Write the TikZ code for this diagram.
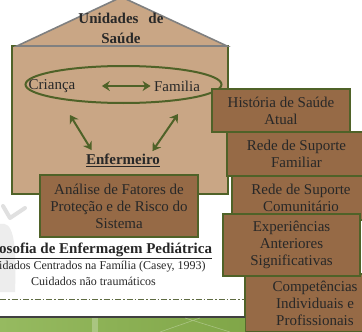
\documentclass[tikz,border=0pt]{standalone}
\usepackage{fontspec}
\setmainfont{Liberation Serif}
\usetikzlibrary{calc,shapes.geometric,arrows.meta}
\definecolor{casa}{RGB}{201,166,133}
\definecolor{caixa}{RGB}{150,106,70}
\definecolor{verde}{RGB}{79,98,40}
\definecolor{texto}{RGB}{40,40,40}
\definecolor{telhado}{RGB}{128,128,128}
\tikzset{
  fator/.style={draw=verde, fill=caixa, line width=1.2pt, text=texto, align=center,
    font=\fontsize{15}{17}\selectfont, inner sep=0pt},
  seta/.style={verde, line width=2pt, {Stealth[length=8pt,width=10pt]}-{Stealth[length=8pt,width=10pt]}},
  rotulo/.style={text=texto, font=\fontsize{15}{17}\selectfont},
  figura/.style={black!12, line width=4pt, line cap=round, line join=round},
}

\begin{document}
\begin{tikzpicture}[x=1pt,y=-1pt]
				\clip (0,0) rectangle (362,332);
				\fill[white] (0,0) rectangle (362,332);
				
				% casa
				\fill[casa] (12,46) rectangle (228,194);
				\draw[verde, line width=2pt] (12,46) rectangle (228,194);
				\filldraw[fill=casa, draw=telhado, line width=1.6pt] (17,46) -- (121.5,-3) -- (227,46) -- cycle;
				\node[rotulo, font=\bfseries\fontsize{15}{20}\selectfont, align=center] (unidades) at (121,28) {Unidades\hspace{10pt}de\\Saúde};
				
				\node[draw=verde, line width=2pt, ellipse, minimum width=196pt, minimum height=37pt, inner sep=0pt] (nucleo) at (123.5,84.5) {};
				\node[rotulo] (crianca) at (52,86) {Criança};
				\node[rotulo] (familia) at (177,86) {Familia};
				\draw[seta] ([xshift=23pt]crianca.east) -- (familia.west);
				
				\node[rotulo, font=\bfseries\fontsize{15}{17}\selectfont] (enfermeiro) at (123,160) {\underline{Enfermeiro}};
				\coordinate (nucleoE) at (70,115);
				\coordinate (nucleoD) at (178,114);
				\draw[seta] (nucleoE) -- ([xshift=9pt]enfermeiro.north west);
				\draw[seta] (nucleoD) -- ([xshift=-11pt,yshift=-1pt]enfermeiro.north east);
				
				\node[fator, line width=2pt, minimum width=158pt, minimum height=62pt] (analise) at (119,206) {Análise de Fatores de\\Proteção e de Risco do\\Sistema};
				
				% caixas da direita
				\node[fator, minimum width=139pt, minimum height=44pt] (familiar) at (296.5,154) {Rede de Suporte\\Familiar};
				\node[fator, minimum width=138pt, minimum height=44pt] (comunitario) at (301,198) {Rede de Suporte\\Comunitário};
				\node[fator, minimum width=140pt, minimum height=58pt] (competencias) at (315,303) {Competências\\Individuais e\\Profissionais};
				\node[fator, line width=2pt, minimum width=138pt, minimum height=43pt] (historia) at (281,110.5) {História de Saúde\\Atual};
				\node[fator, line width=2.2pt, minimum width=137pt, minimum height=62pt] (experiencias) at (291.5,245) {Experiências\\Anteriores\\Significativas};
				
				% figura
				\fill[black!7] (0,224) .. controls (12,221) and (17,236) .. (15,292) -- (0,292) -- cycle;
				\draw[figura] (3,206) -- (10,218) -- (25,208);
				
				% filosofia
				\node[rotulo, font=\bfseries\fontsize{15}{17}\selectfont, anchor=west, inner sep=0pt] (filosofia) at (-1,251) {\underline{osofia de Enfermagem Pediátrica}};
				\node[rotulo, font=\fontsize{12}{14}\selectfont, anchor=west, inner sep=0pt] (casey) at (-1,267) {idados Centrados na Família (Casey, 1993)};
				\node[rotulo, font=\fontsize{12}{14}\selectfont] (trauma) at (93.5,281) {Cuidados não traumáticos};
				
				\draw[verde!70!gray, line width=1pt, dash pattern=on 6pt off 2pt on 1.5pt off 2pt] (0,299) -- (245,299);
				\draw[black!75, line width=1.5pt] (0,317) -- (245,317);
				\shade[left color={rgb,255:red,150;green,186;blue,96}, right color={rgb,255:red,128;green,166;blue,72}] (0,318) rectangle (245,332);
				\draw[white, opacity=0.25, line width=6pt] (95,318) -- (95,332);
				\draw[white, opacity=0.3, line width=0.6pt] (160,332) -- (200,318) (185,318) -- (230,332);
			\end{tikzpicture}
\end{document}
